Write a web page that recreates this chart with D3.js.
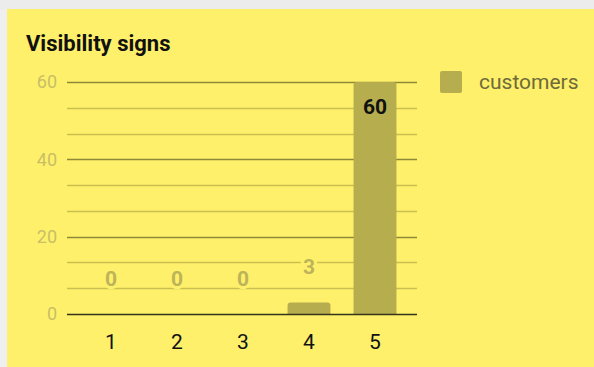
<!DOCTYPE html>
<html>
<head>
<meta charset="utf-8">
<script src="https://cdn.jsdelivr.net/npm/d3@7/dist/d3.min.js"></script>
<style>
  html, body { margin: 0; padding: 0; background: #efefef; }
  svg { display: block; font-family: Roboto, "Noto Sans", sans-serif; }
</style>
</head>
<body>
<svg id="chart" width="594" height="367"></svg>
<script>
// Chart data
const categories = ["1", "2", "3", "4", "5"];
const customers = [0, 0, 0, 3, 60];
const yTicks = [0, 20, 40, 60];
const seriesName = "customers";
const title = "Visibility signs";

const svg = d3.select("#chart");
const W = 594, H = 367;

// Card background
svg.append("rect").attr("x", 0).attr("y", 0).attr("width", W).attr("height", 9).attr("fill", "#ececec");
svg.append("rect").attr("x", 7).attr("y", 9).attr("width", W - 7).attr("height", H - 9).attr("fill", "#fef06a");

// Title
svg.append("text").attr("x", 26).attr("y", 51)
  .attr("font-size", 22).attr("font-weight", "bold").attr("fill", "#111")
  .text(title);

// Scales
const x = d3.scaleBand().domain(categories).range([78, 408]).paddingInner(0.35).paddingOuter(0.175);
const y = d3.scaleLinear().domain([0, 60]).range([314, 82]);
const gridX0 = 67, gridX1 = 417;

// Minor gridlines (thirds between major ticks)
const minor = d3.range(0, 60, 20 / 3).filter((v, i) => i % 3 !== 0);
svg.append("g").selectAll("line").data(minor).join("line")
  .attr("x1", gridX0).attr("x2", gridX1)
  .attr("y1", d => Math.round(y(d)) + 0.5).attr("y2", d => Math.round(y(d)) + 0.5)
  .attr("stroke", "#c9bf52").attr("stroke-width", 1.5);

// Major gridlines
svg.append("g").selectAll("line").data(yTicks.filter(d => d !== 0)).join("line")
  .attr("x1", gridX0).attr("x2", gridX1)
  .attr("y1", d => Math.round(y(d)) + 0.5).attr("y2", d => Math.round(y(d)) + 0.5)
  .attr("stroke", "#8f8838").attr("stroke-width", 1.6);

// Y axis labels
const yAxis = d3.axisLeft(y).tickValues(yTicks).tickSize(0).tickPadding(0);
const gy = svg.append("g").attr("transform", "translate(57,0)").call(yAxis);
gy.select(".domain").remove();
gy.selectAll("text").attr("font-size", 18).attr("fill", "#c8bf66")
  .attr("font-family", "Roboto, sans-serif");

const rows = categories.map((c, i) => ({ c, v: customers[i] }));

// Value labels for short bars (with background halo)
const labelOffset = 36;
svg.append("g").selectAll("text").data(rows.filter(d => y(0) - y(d.v) < 40))
  .join("text")
  .attr("x", d => x(d.c) + x.bandwidth() / 2)
  .attr("y", d => y(d.v) - labelOffset + 7.5)
  .attr("text-anchor", "middle")
  .attr("font-size", 21).attr("font-weight", "bold").attr("fill", "#bdb45a")
  .attr("stroke", "#fef06a").attr("stroke-width", 6).attr("paint-order", "stroke")
  .text(d => d.v);

// Bars
svg.append("g").selectAll("path").data(rows.filter(d => d.v > 0))
  .join("path")
  .attr("fill", "#b6ad4f")
  .attr("d", d => {
    const x0 = x(d.c), x1 = x0 + x.bandwidth(), yt = y(d.v), yb = y(0), r = Math.min(3, (yb - yt) / 2);
    return `M${x0},${yb}V${yt + r}Q${x0},${yt} ${x0 + r},${yt}H${x1 - r}Q${x1},${yt} ${x1},${yt + r}V${yb}Z`;
  });

// Baseline
svg.append("line").attr("x1", gridX0).attr("x2", gridX1)
  .attr("y1", y(0) + 0.5).attr("y2", y(0) + 0.5)
  .attr("stroke", "#35331c").attr("stroke-width", 1.6);

// Inside labels for tall bars
svg.append("g").selectAll("text").data(rows.filter(d => y(0) - y(d.v) >= 40))
  .join("text")
  .attr("x", d => x(d.c) + x.bandwidth() / 2)
  .attr("y", d => y(d.v) + 32)
  .attr("text-anchor", "middle")
  .attr("font-size", 21).attr("font-weight", "bold").attr("fill", "#111")
  .text(d => d.v);

// X axis labels
const xAxis = d3.axisBottom(x).tickSize(0).tickPadding(0);
const gx = svg.append("g").attr("transform", "translate(0,0)").call(xAxis);
gx.select(".domain").remove();
gx.selectAll("text").attr("font-size", 21).attr("fill", "#111")
  .attr("y", 348.5).attr("dy", null)
  .attr("font-family", "Roboto, sans-serif");

// Legend
const lg = svg.append("g").attr("transform", "translate(440,71)");
lg.append("rect").attr("width", 22).attr("height", 22).attr("rx", 2).attr("fill", "#b6ad4f");
lg.append("text").attr("x", 39).attr("y", 17.5).attr("font-size", 21).attr("fill", "#6e6a3a").text(seriesName);
</script>
</body>
</html>
